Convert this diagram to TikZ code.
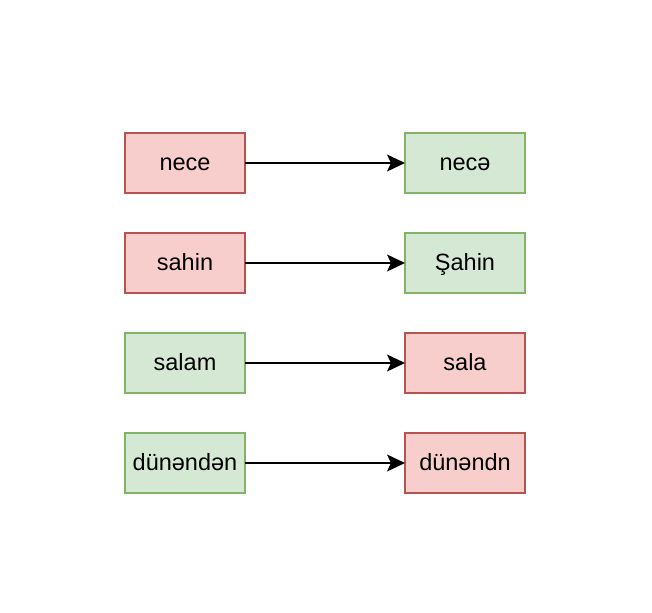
\documentclass[tikz,border=0pt]{standalone}
\usepackage{fontspec}
\setmainfont{Liberation Sans}
\usepackage{xcolor}
\definecolor{pale-red}{HTML}{F8CECC}
\definecolor{dark-red}{HTML}{B85450}
\definecolor{pale-green}{HTML}{D5E8D4}
\definecolor{dark-green}{HTML}{82B366}
\usetikzlibrary{positioning}
\usetikzlibrary{arrows.meta}
\tikzset{bad/.style = {draw=dark-red, fill=pale-red, line width=1.5pt, outer sep=0pt, minimum width=120pt, minimum height=60pt, inner sep=0pt, text height=17pt, text depth=1.6pt, align=center}}
\tikzset{good/.style = {draw=dark-green, fill=pale-green, line width=1.5pt, outer sep=0pt, minimum width=120pt, minimum height=60pt, inner sep=0pt, text height=17pt, text depth=1.6pt, align=center}}
\tikzset{arr/.style = {line width=1.3pt, -{Stealth[length=18pt, width=17pt, inset=4pt]}}}

\begin{document}
\begin{tikzpicture}[x=1pt, y=1pt,
  node distance = 40pt and 160pt,
  font=\fontsize{23.5}{28}\selectfont
]
\useasboundingbox (0,0) rectangle (652,-612);

\node[bad] (in1) at (185,-163) {nece};
\node[bad, below=of in1] (in2) {sahin};
\node[good, below=of in2] (in3) {salam};
\node[good, below=of in3] (in4) {dünəndən};
\node[good, right=of in1] (out1) {necə};
\node[good, right=of in2] (out2) {Şahin};
\node[bad, right=of in3] (out3) {sala};
\node[bad, right=of in4] (out4) {dünəndn};

\draw[arr]  (in1) -- (out1);
\draw[arr]  (in2) -- (out2);
\draw[arr]  (in3) -- (out3);
\draw[arr]  (in4) -- (out4);

\end{tikzpicture}
\end{document}
